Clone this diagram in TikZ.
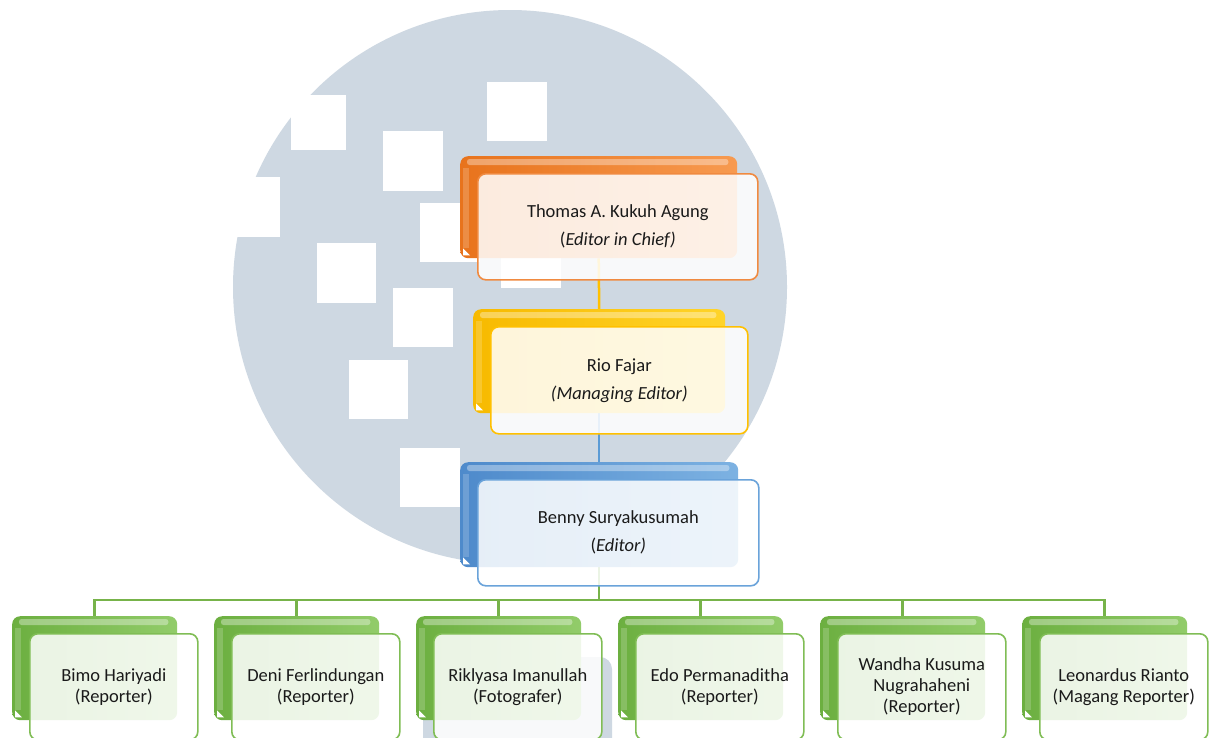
\documentclass[tikz,border=0pt]{standalone}
\usepackage{fontspec}
\setmainfont{Carlito}
\usetikzlibrary{calc}
\pgfdeclarelayer{bg}
\pgfsetlayers{bg,main}
\definecolor{circ}{HTML}{CED8E2}
\definecolor{txt}{HTML}{1A1A1A}
\definecolor{oBase}{HTML}{F79A50}
\definecolor{oDark}{HTML}{E8731C}
\definecolor{oLine}{HTML}{F08A40}
\definecolor{yBase}{HTML}{FFD42A}
\definecolor{yDark}{HTML}{F7BA00}
\definecolor{yLine}{HTML}{FFC000}
\definecolor{bBase}{HTML}{7DB2E2}
\definecolor{bDark}{HTML}{4E8ACB}
\definecolor{bLine}{HTML}{6AA3DA}
\definecolor{gBase}{HTML}{92CC6A}
\definecolor{gDark}{HTML}{6CAF40}
\definecolor{gLine}{HTML}{80BD55}
\definecolor{cGold}{HTML}{FFC000}
\definecolor{cBlue}{HTML}{5B9BD5}
\definecolor{cGreen}{HTML}{77B34A}
\tikzset{
  backbox/.style={anchor=north west, rectangle, rounded corners=8pt, inner sep=0pt, draw=none},
  frontbox/.style={anchor=north west, rectangle, rounded corners=8pt, inner sep=0pt,
    line width=1.6pt, fill=white, fill opacity=.86, text opacity=1, text=txt, align=center},
  ofont/.style={font=\fontsize{18.5}{28}\selectfont},
  yfont/.style={font=\fontsize{18.5}{28}\selectfont},
  bfont/.style={font=\fontsize{18.5}{28}\selectfont},
  gfont/.style={font=\fontsize{18.5}{21}\selectfont},
  conn/.style={line width=2.5pt},
  wsq/.style={fill=white},
}
% #1 name, #2 x, #3 y, #4 back w, #5 back h, #6 front w, #7 front h, #8 colour prefix, #9 text
\newcommand\OrgBox[9]{%
  \node[backbox, minimum width=#4pt, minimum height=#5pt, left color=#8Dark, right color=#8Base] (#1B) at (#2,#3) {};
  \fill[white, opacity=.35, rounded corners=2.5pt] ($(#1B.north west)+(7,3)$) rectangle ($(#1B.north east)+(-9,9)$);
  \fill[white, opacity=.18] ($(#1B.north west)+(3,12)$) rectangle ($(#1B.south west)+(9,-10)$);
  \fill[white] ($(#1B.south west)+(3,-3)$) -- ++(0,-7) -- ++(7,7) -- cycle;
  \node[frontbox, #8font, draw=#8Line, minimum width=#6pt, minimum height=#7pt] (#1F) at (#2+17,#3+17) {#9};
}
\begin{document}
\begin{tikzpicture}[x=1pt,y=-1pt]
\useasboundingbox (0,0) rectangle (1209,737);
% boxes
\OrgBox{tho}{460}{156}{277}{102}{280}{106}{o}{Thomas A. Kukuh Agung\\(\textit{Editor in Chief)}}
\OrgBox{rio}{473}{309}{252}{104}{257}{107}{y}{Rio Fajar\\\textit{(Managing Editor)}}
\OrgBox{ben}{460}{462}{278}{105}{281}{106}{b}{Benny Suryakusumah\\(\textit{Editor)}}
\OrgBox{ga}{12}{616}{165}{104}{168}{106}{g}{Bimo Hariyadi\\(Reporter)}
\OrgBox{gb}{214}{616}{165}{104}{168}{106}{g}{Deni Ferlindungan\\(Reporter)}
\OrgBox{gc}{416}{616}{165}{104}{168}{106}{g}{Riklyasa Imanullah\\(Fotografer)}
\OrgBox{gd}{618}{616}{165}{104}{168}{106}{g}{Edo Permanaditha\\(Reporter)}
\OrgBox{ge}{820}{616}{165}{104}{168}{106}{g}{Wandha Kusuma\\Nugrahaheni\\(Reporter)}
\OrgBox{gf}{1022}{616}{165}{104}{168}{106}{g}{Leonardus Rianto\\(Magang Reporter)}
\begin{pgfonlayer}{bg}
  \fill[white] (0,0) rectangle (1209,737);
  % watermark circle with square cut-outs
  \fill[circ] (510,287) circle[radius=277];
  \fill[wsq] (291,95) rectangle (346,150);
  \fill[wsq] (487,82) rectangle (547,141);
  \fill[wsq] (383,131) rectangle (443,191);
  \fill[wsq] (220,177) rectangle (280,237);
  \fill[wsq] (420,203) rectangle (480,262);
  \fill[wsq] (317,243) rectangle (376,303);
  \fill[wsq] (501,228) rectangle (561,288);
  \fill[wsq] (393,288) rectangle (453,347);
  \fill[wsq] (349,360) rectangle (408,419);
  \fill[wsq] (400,448) rectangle (460,507);
  \fill[circ, rounded corners=12pt] (423,657) rectangle (612,760);
  % connectors
  \coordinate (bus) at (0,600);
  \draw[conn, cGold] (thoB.south) -- (rioB.north);
  \draw[conn, cBlue] (rioB.south) -- (benB.north);
  \foreach \g in {ga,gb,gc,gd,ge,gf}
    \draw[conn, cGreen] (benB.south) -- (benB.south |- bus) -| (\g B.north);
\end{pgfonlayer}
\end{tikzpicture}
\end{document}
